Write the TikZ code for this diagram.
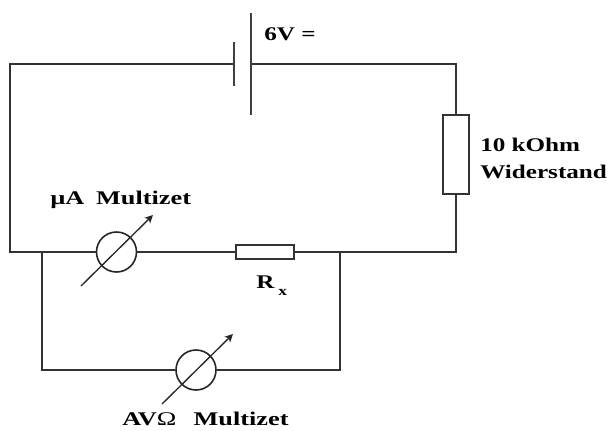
\documentclass[tikz,border=0pt]{standalone}
\usepackage{graphicx}
\usepackage{fontspec}
\setmainfont{Liberation Serif}
\usetikzlibrary{arrows.meta}
\newcommand{\widetxt}[1]{\scalebox{1.3}[1]{#1}}
\tikzset{
  wire/.style={line width=1.5pt,draw=black!80},
  plate/.style={line width=1.9pt,draw=black!75},
  resbox/.style={draw=black!80,line width=1.5pt,fill=white,rectangle,inner sep=0pt,minimum width=#1},
  meter/.style={draw=black!85,line width=1.2pt,fill=white,circle,inner sep=0pt,minimum size=30pt},
  needle/.style={line width=1pt,draw=black!85,-{Stealth[length=6pt,width=6pt,inset=1.5pt]}},
  lab/.style={font=\bfseries\fontsize{14.5pt}{16pt}\selectfont,inner sep=0pt,anchor=base west,text=black}
}
\begin{document}
\begin{tikzpicture}[x=0.75pt,y=-0.75pt]
\useasboundingbox (0,0) rectangle (610,430);
\coordinate (tl) at (10,64);
\coordinate (tr) at (456,64);
\coordinate (bl) at (10,252);
\coordinate (br) at (456,252);
\coordinate (j1) at (42,252);
\coordinate (j2) at (340,252);
\coordinate (l1) at (42,370);
\coordinate (l2) at (340,370);
\coordinate (batA) at (234,64);
\coordinate (batB) at (251,64);
\coordinate (batAt) at (234,42);
\coordinate (batAb) at (234,86);
\coordinate (batBt) at (251,13);
\coordinate (batBb) at (251,115);
\node[resbox=19.5pt,minimum height=59pt] (R) at (456,154.5) {};
\node[resbox=43.5pt,minimum height=11pt] (Rx) at (265,252) {};
\node[meter] (M1) at (116.5,252) {};
\node[meter] (M2) at (196,370) {};
\coordinate (n1a) at (81,286);
\coordinate (n1b) at (153,215);
\coordinate (n2a) at (162,404);
\coordinate (n2b) at (233,334);
\draw[wire] (batA) -- (tl) -- (bl) -- (M1);
\draw[wire] (batB) -- (tr) -- (R);
\draw[wire] (R) -- (br) -- (Rx);
\draw[wire] (Rx) -- (M1);
\draw[wire] (j1) -- (l1) -- (M2);
\draw[wire] (M2) -- (l2) -- (j2);
\draw[plate] (batAt) -- (batAb);
\draw[plate] (batBt) -- (batBb);
\draw[needle] (n1a) -- (n1b);
\draw[needle] (n2a) -- (n2b);
\node[lab] (t6) at (264,40) {\widetxt{6V =}};
\node[lab] (t10) at (480,151) {\widetxt{10 kOhm}};
\node[lab] (tW) at (480,178) {\widetxt{Widerstand}};
\node[lab] (tmu) at (50,204) {\scalebox{1.36}[1]{µA\hspace{6.5pt}Multizet}};
\node[lab] (tRx) at (256,288) {\widetxt{R}};
\node[lab] (tRxs) at (278,295) {\widetxt{\fontsize{10pt}{11pt}\selectfont x}};
\node[lab] (tAV) at (122,425) {\scalebox{1.36}[1]{AV{\normalfont Ω}\hspace{9.5pt}Multizet}};
\end{tikzpicture}
\end{document}
